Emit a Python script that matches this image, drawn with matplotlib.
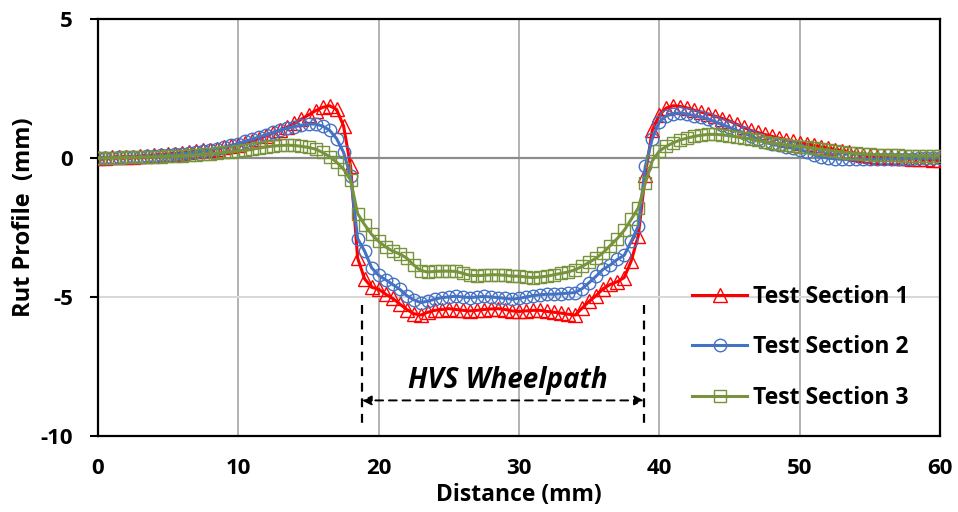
import numpy as np
import matplotlib
matplotlib.use("Agg")
import matplotlib.pyplot as plt

plt.rcParams['font.family'] = ['Open Sans', 'DejaVu Sans']
plt.rcParams['axes.unicode_minus'] = False

distance = np.arange(0, 60.5, 0.5)

section1 = [
    0.00, 0.01, 0.02, 0.03, 0.04, 0.05, 0.07, 0.08, 0.10, 0.12,
    0.14, 0.16, 0.18, 0.21, 0.24, 0.27, 0.30, 0.34, 0.38, 0.43,
    0.48, 0.55, 0.62, 0.70, 0.80, 0.90, 1.00, 1.12, 1.25, 1.40,
    1.55, 1.70, 1.82, 1.88, 1.75, 1.15, -0.30, -3.60,
    -4.35, -4.65, -4.72, -4.90, -5.05, -5.25, -5.45, -5.60, -5.65, -5.55,
    -5.48, -5.45, -5.42, -5.45, -5.48, -5.50, -5.48, -5.45, -5.43, -5.42,
    -5.45, -5.50, -5.52, -5.50, -5.48, -5.48, -5.52, -5.55, -5.58, -5.62,
    -5.65, -5.40, -5.15, -4.95, -4.70, -4.55, -4.45, -4.30, -3.70, -2.80,
    -0.60, 1.00, 1.55, 1.80, 1.88, 1.85, 1.80, 1.72, 1.65, 1.58,
    1.50, 1.42, 1.33, 1.22, 1.10, 1.00, 0.92, 0.85, 0.78, 0.72,
    0.66, 0.60, 0.55, 0.50, 0.45, 0.40, 0.35, 0.30, 0.25, 0.20,
    0.16, 0.12, 0.08, 0.05, 0.03, 0.02, 0.00, 0.00, -0.02, -0.03,
    -0.05, -0.06, -0.08,
]

section2 = [
    0.00, 0.00, 0.01, 0.02, 0.03, 0.04, 0.05, 0.06, 0.07, 0.09,
    0.11, 0.13, 0.15, 0.18, 0.21, 0.25, 0.29, 0.34, 0.39, 0.45,
    0.52, 0.60, 0.68, 0.76, 0.84, 0.92, 1.00, 1.07, 1.13, 1.18,
    1.22, 1.22, 1.15, 1.00, 0.70, 0.20, -0.65, -2.90,
    -3.35, -3.95, -4.22, -4.38, -4.55, -4.72, -4.95, -5.10, -5.20, -5.15,
    -5.08, -5.02, -5.00, -4.97, -5.00, -5.02, -5.00, -4.98, -5.00, -5.02,
    -5.05, -5.08, -5.05, -5.00, -4.95, -4.92, -4.90, -4.90, -4.88, -4.86,
    -4.84, -4.70, -4.48, -4.25, -4.00, -3.85, -3.65, -3.50, -3.00, -2.45,
    -0.30, 0.70, 1.30, 1.52, 1.60, 1.62, 1.58, 1.52, 1.47, 1.40,
    1.30, 1.20, 1.10, 1.00, 0.90, 0.80, 0.68, 0.58, 0.50, 0.45,
    0.40, 0.36, 0.30, 0.22, 0.12, 0.04, 0.00, -0.03, -0.05, -0.05,
    -0.05, -0.05, -0.05, -0.04, -0.04, -0.03, -0.03, -0.02, -0.02, -0.01,
    -0.01, 0.00, 0.00,
]

section3 = [
    0.00, 0.00, 0.01, 0.01, 0.02, 0.02, 0.03, 0.03, 0.04, 0.05,
    0.06, 0.07, 0.08, 0.10, 0.11, 0.13, 0.15, 0.17, 0.20, 0.22,
    0.25, 0.28, 0.32, 0.36, 0.40, 0.43, 0.45, 0.46, 0.45, 0.42,
    0.38, 0.32, 0.20, 0.05, -0.15, -0.40, -0.80, -2.00,
    -2.40, -2.75, -3.00, -3.20, -3.35, -3.45, -3.60, -3.85, -4.05, -4.10,
    -4.08, -4.07, -4.07, -4.08, -4.15, -4.22, -4.23, -4.22, -4.20, -4.20,
    -4.22, -4.25, -4.25, -4.28, -4.30, -4.28, -4.25, -4.20, -4.15, -4.10,
    -4.02, -3.90, -3.75, -3.60, -3.40, -3.15, -2.90, -2.60, -2.20, -1.80,
    -0.90, -0.10, 0.25, 0.42, 0.55, 0.65, 0.72, 0.78, 0.82, 0.85,
    0.85, 0.83, 0.80, 0.76, 0.72, 0.68, 0.63, 0.58, 0.54, 0.50,
    0.47, 0.44, 0.41, 0.38, 0.35, 0.32, 0.28, 0.25, 0.22, 0.19,
    0.17, 0.15, 0.13, 0.12, 0.11, 0.10, 0.09, 0.08, 0.08, 0.07,
    0.07, 0.07, 0.07,
]

labels = ["Test Section 1", "Test Section 2", "Test Section 3"]
wheelpath_start = 18.8
wheelpath_end = 38.9

fig = plt.figure(figsize=(9.58, 5.12), dpi=100)
ax = fig.add_axes([98/958, 1-436/512, (940-98)/958, (436-19)/512])

# grid
for gx in [10, 20, 30, 40, 50]:
    ax.axvline(gx, color='#A6A6A6', lw=1.2, zorder=0)
ax.axhline(-5, color='#D9D9D9', lw=1.5, zorder=0)
ax.axhline(0, color='#8C8C8C', lw=1.6, zorder=0)

styles = [
    dict(color='#FF0000', marker='^', ms=9.5),
    dict(color='#4472C4', marker='o', ms=9),
    dict(color='#77933C', marker='s', ms=8.5),
]
for ys, lab, st in zip([section1, section2, section3], labels, styles):
    ax.plot(distance, ys, color=st['color'], lw=2.2, marker=st['marker'],
            ms=st['ms'], mfc='none', mec=st['color'], mew=1.0, label=lab,
            zorder=3)

ax.set_xlim(0, 60)
ax.set_ylim(-10, 5)
ax.set_xticks([0, 10, 20, 30, 40, 50, 60])
ax.set_yticks([5, 0, -5, -10])
ax.tick_params(axis='x', length=0, pad=16, labelsize=16)
ax.tick_params(axis='y', length=6, width=1.5, pad=12, labelsize=16,
               direction='out')
for lbl in ax.get_xticklabels() + ax.get_yticklabels():
    lbl.set_fontweight('bold')
for sp in ax.spines.values():
    sp.set_color('black')
    sp.set_linewidth(1.6)

ax.set_xlabel('Distance (mm)', fontsize=16.5, fontweight='bold', labelpad=3)
ax.set_ylabel('Rut Profile  (mm)', fontsize=17, fontweight='bold')
ax.yaxis.set_label_coords(-0.074, 0.525)

# wheelpath annotation
for xv in [wheelpath_start, wheelpath_end]:
    ax.plot([xv, xv], [-5.3, -9.6], color='black', lw=1.6,
            ls=(0, (4, 3)), zorder=2)
ax.annotate('', xy=(wheelpath_start, -8.72), xytext=(wheelpath_end, -8.72),
            arrowprops=dict(arrowstyle='<|-|>', color='black', lw=1.4,
                            ls=(0, (4, 3)), mutation_scale=14,
                            shrinkA=0, shrinkB=0))
ax.text(29.2, -8.0, 'HVS Wheelpath',
        fontsize=20, fontweight='bold', fontstyle='italic',
        ha='center', va='center')

leg = fig.legend(loc='upper left', bbox_to_anchor=(692/958, 1-285/512),
                 frameon=False, borderpad=0, borderaxespad=0,
                 handlelength=2.4, handletextpad=0.25, labelspacing=1.15,
                 prop=dict(weight='bold', size=16.5))

fig.savefig('out.png', dpi=100)
